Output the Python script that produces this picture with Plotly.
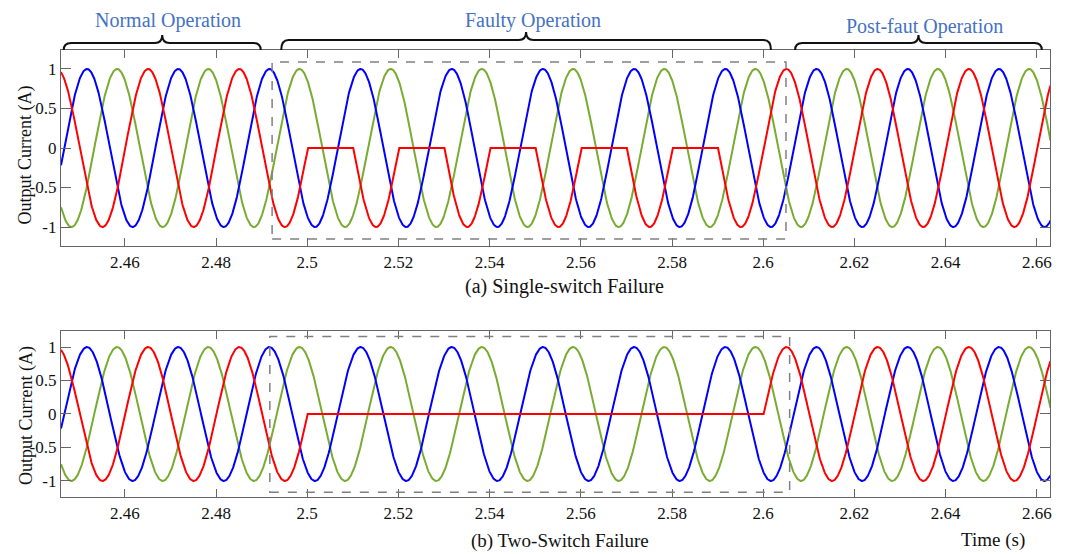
import numpy as np
import plotly.graph_objects as go

# ---------------- data ----------------
FREQ_HZ = 50.0                    # one cycle every 0.02 s
AMPLITUDE = 1.0                   # peak current (A)
PEAK_TIME_RED = 2.4651            # time of a red-phase positive peak (s)
PEAK_TIME_GREEN = 2.4583          # time of a green-phase positive peak (s)
PEAK_TIME_BLUE = 2.4517           # time of a blue-phase positive peak (s)
FAULT_START = 2.50                # fault applied (s)
FAULT_END = 2.60                  # fault cleared (s)
TIME_RANGE = [2.446, 2.6629]      # visible time window (s)
SAMPLE_STEP = 0.0001              # simulation step (s)

x_tick_vals = [2.46, 2.48, 2.50, 2.52, 2.54, 2.56, 2.58, 2.60, 2.62, 2.64, 2.66]
x_tick_text = ["2.46", "2.48", "2.5", "2.52", "2.54", "2.56", "2.58", "2.6", "2.62", "2.64", "2.66"]
y_tick_vals = [-1, -0.5, 0, 0.5, 1]
y_tick_text = ["-1", "-0.5", "0", "0.5", "1"]

section_labels = ["Normal Operation", "Faulty Operation", "Post-faut Operation"]
panel_titles = ["(a) Single-switch Failure", "(b) Two-Switch Failure"]

# ---------------- waveforms ----------------
t = np.arange(TIME_RANGE[0], TIME_RANGE[1] + SAMPLE_STEP, SAMPLE_STEP)
t = np.unique(np.round(np.concatenate([t, [FAULT_START, FAULT_END]]), 6))
w = 2 * np.pi * FREQ_HZ
red = AMPLITUDE * np.cos(w * (t - PEAK_TIME_RED))
green = AMPLITUDE * np.cos(w * (t - PEAK_TIME_GREEN))
blue = AMPLITUDE * np.cos(w * (t - PEAK_TIME_BLUE))
in_fault = (t >= FAULT_START) & (t <= FAULT_END)

red_single = np.where(in_fault, np.minimum(red, 0.0), red)   # positive half lost
red_two = np.where(in_fault, 0.0, red)                        # whole phase lost

RED, GREEN, BLUE = "#ff0000", "#77ac30", "#0000ff"
LW = 2

fig = go.Figure()
for ax, rtrace in (("", red_single), ("2", red_two)):
    for y, c in ((green, GREEN), (blue, BLUE), (rtrace, RED)):
        fig.add_trace(go.Scatter(x=t, y=y, mode="lines", line=dict(color=c, width=LW),
                                 xaxis="x" + ax, yaxis="y" + ax, showlegend=False,
                                 hoverinfo="skip"))

FONT = "Liberation Serif, Times New Roman, serif"
AXC = "#666666"

def xax(anchor):
    return dict(range=TIME_RANGE, anchor=anchor, domain=[0, 1], showline=True, mirror="ticks",
                linecolor=AXC, linewidth=1.3, ticks="inside", ticklen=8, tickcolor=AXC,
                tickwidth=1.3, tickvals=x_tick_vals, ticktext=x_tick_text, showgrid=False,
                zeroline=False, tickfont=dict(family=FONT, size=17, color="#111"))

def yax(anchor, dom):
    return dict(range=[-1.24, 1.24], anchor=anchor, domain=dom, showline=True, mirror="ticks",
                linecolor=AXC, linewidth=1.3, ticks="inside", ticklen=10, tickcolor=AXC,
                tickwidth=1.3, tickvals=y_tick_vals, ticktext=y_tick_text, showgrid=False,
                zeroline=False, tickfont=dict(family=FONT, size=17, color="#111"))

# dashed boxes around the faulty interval
fig.add_shape(type="rect", xref="x", yref="y", x0=2.4923, x1=2.6050, y0=-1.152, y1=1.089,
              line=dict(color="#808080", width=1.5, dash="dash"))
fig.add_shape(type="rect", xref="x2", yref="y2", x0=2.4918, x1=2.6058, y0=-1.17, y1=1.158,
              line=dict(color="#808080", width=1.5, dash="dash"))

# curly braces above the top panel (x in time units, y in paper units)
def brace(x0, x1, y_base, y_line, y_tip, r=0.0016):
    xm = (x0 + x1) / 2
    return (f"M {x0},{y_base} Q {x0},{y_line} {x0 + r},{y_line} L {xm - r},{y_line} "
            f"Q {xm},{y_line} {xm},{y_tip} Q {xm},{y_line} {xm + r},{y_line} "
            f"L {x1 - r},{y_line} Q {x1},{y_line} {x1},{y_base}")

for x0, x1, yl, yt in ((2.4466, 2.4898, 1.0157, 1.0336),
                       (2.4943, 2.6017, 1.0224, 1.0403),
                       (2.6070, 2.6611, 1.0157, 1.0336)):
    fig.add_shape(type="path", xref="x", yref="paper", path=brace(x0, x1, 1.0, yl, yt),
                  line=dict(color="#111111", width=2))

ann = []
for txt, x, y in zip(section_labels, (0.1082, 0.4772, 0.8726), (1.0656, 1.067, 1.0521)):
    ann.append(dict(text=txt, x=x, y=y, xref="paper", yref="paper", showarrow=False,
                    font=dict(family=FONT, size=20, color="#4472c4"),
                    xanchor="center", yanchor="middle"))
for txt, x, y, fs in zip(panel_titles, (0.5096, 0.5046), (0.4698, -0.0975), (20, 19)):
    ann.append(dict(text=txt, x=x, y=y, xref="paper", yref="paper", showarrow=False,
                    font=dict(family=FONT, size=fs, color="#111"),
                    xanchor="center", yanchor="middle"))
for y in (0.7662, 0.1834):
    ann.append(dict(text="Output Current (A)", x=-0.0354, y=y, xref="paper", yref="paper",
                    showarrow=False, textangle=-90,
                    font=dict(family=FONT, size=18, color="#111"),
                    xanchor="center", yanchor="middle"))
ann.append(dict(text="Time (s)", x=0.9419, y=-0.0965, xref="paper", yref="paper",
                showarrow=False, font=dict(family=FONT, size=19, color="#111"),
                xanchor="center", yanchor="middle"))

fig.update_layout(
    width=1066, height=554,
    margin=dict(l=61, r=16, t=50, b=57),
    paper_bgcolor="white", plot_bgcolor="white",
    xaxis=xax("y"), yaxis=yax("x", [0.5615, 1.0]),
    xaxis2=xax("y2"), yaxis2=yax("x2", [0.0, 0.3714]),
    annotations=ann, showlegend=False,
)

fig.write_html("out.html", config={"displayModeBar": False},
               post_script="document.body.style.margin='0';document.body.style.overflow='hidden';")
